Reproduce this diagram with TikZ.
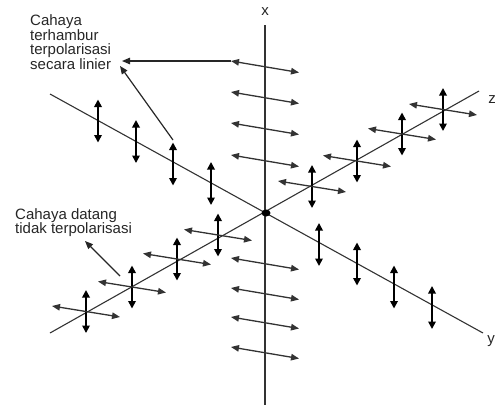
\documentclass[tikz,border=0pt]{standalone}
\usepackage{fontspec}
\setmainfont{Liberation Sans}
\usetikzlibrary{arrows.meta}

\begin{document}
\begin{tikzpicture}[x=1pt,y=-1pt,
  axis/.style={black!80,line width=1.1pt},
  vib/.style={{Triangle[length=7.5pt,width=7.5pt]}-{Triangle[length=7.5pt,width=7.5pt]},line width=1.7pt},
  tilt/.style={{Triangle[length=8pt,width=6.5pt]}-{Triangle[length=8pt,width=6.5pt]},black!80,line width=1.3pt},
  leader/.style={-{Triangle[length=8pt,width=6.5pt]},black!85,line width=1.2pt},
  lbl/.style={font=\fontsize{15}{14.7}\selectfont,align=left,inner sep=0pt,text=black!85}]
  \useasboundingbox (0,0) rectangle (497,405);
  % axes
  \coordinate (o) at (266,213);
  \draw[axis] (265,25) -- (265,405);
  \draw[axis] (50,94) -- (483,333);
  \draw[axis] (50,333) -- (479,91);
  \fill (o) ellipse (4.5pt and 3.5pt);
  \node[lbl] (lx) at (265,12) {x};
  \node[lbl] (lz) at (492,100) {z};
  \node[lbl] (ly) at (491,341) {y};
  % vibrations along y
  \foreach \px/\py in {98/121,136/141.5,173/164,211/183.5,319/244.5,357/264,394/287,432/307.5}
    \draw[vib] (\px,\py-21.5) -- (\px,\py+21.5);
  % vibrations along z
  \foreach \px/\py in {86/311.5,132/287,177/259,218/235,312/186.5,357/161,402/134,443/109.5}{
    \draw[vib] (\px,\py-21.5) -- (\px,\py+21.5);
    \draw[tilt] (\px-34,\py-5.5) -- (\px+34,\py+5.5);}
  % vibrations along x
  \foreach \py in {61,92,123,155,258,288,317,347}
    \draw[tilt] (231,\py) -- (299,\py+11.5);
  % labels
  \node[lbl,anchor=north west] (scat) at (30,14.5) {Cahaya\\terhambur\\terpolarisasi\\secara linier};
  \node[lbl,anchor=north west] (inc) at (15,208) {Cahaya datang\\tidak terpolarisasi};
  \coordinate (s1) at (231,61);
  \coordinate (t1) at (122,61);
  \coordinate (s2) at (173,140);
  \coordinate (t2) at (120,66);
  \coordinate (s3) at (120,276);
  \coordinate (t3) at (85,241);
  \draw[leader] (s1) -- (t1);
  \draw[leader] (s2) -- (t2);
  \draw[leader] (s3) -- (t3);
\end{tikzpicture}
\end{document}
